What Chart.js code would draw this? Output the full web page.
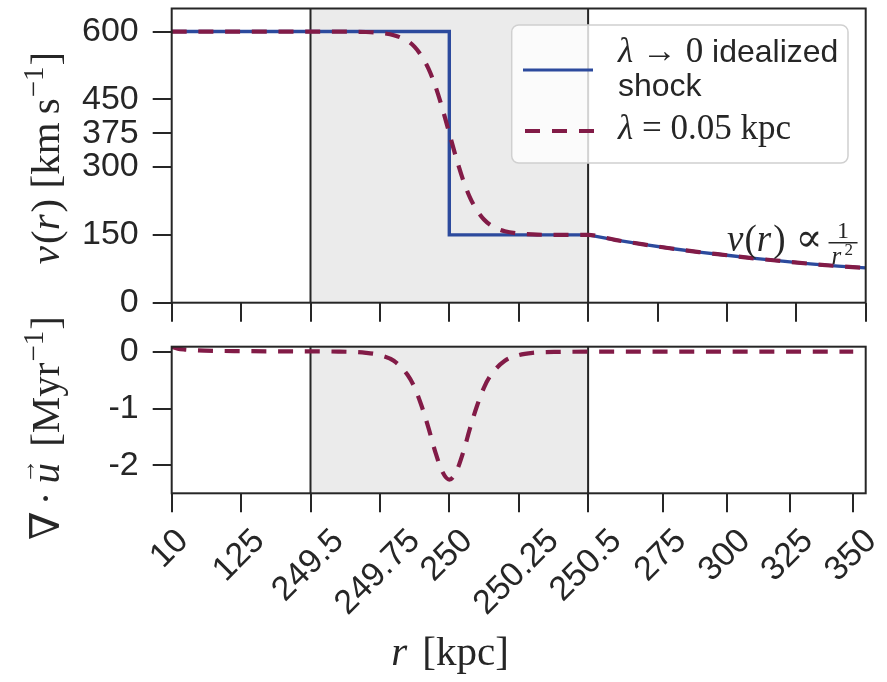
<!DOCTYPE html>
<html><head><meta charset="utf-8">
<script src="https://cdn.jsdelivr.net/npm/chart.js@4.4.1/dist/chart.umd.min.js"></script>
<style>
html,body{margin:0;padding:0;background:#fff;}
#wrap{position:relative;width:887px;height:682px;overflow:hidden;background:#fff;}
#wrap canvas{position:absolute;left:0;top:0;}
</style></head><body>
<div id="wrap">
<canvas id="cBot" width="887" height="682" style="width:887px;height:682px"></canvas>
<canvas id="cTop" width="887" height="682" style="width:887px;height:682px"></canvas>
</div>
<script>
// ---------------- data ----------------
const rTicks = [10, 125, 249.5, 249.75, 250, 250.25, 250.5, 275, 300, 325, 350];
const rTickLabels = ['10', '125', '249.5', '249.75', '250', '250.25', '250.5', '275', '300', '325', '350'];
const vTicks = [0, 150, 300, 375, 450, 600];
const vTickLabels = ['0', '150', '300', '375', '450', '600'];
const divTicks = [0, -1, -2];
const divTickLabels = ['0', '-1', '-2'];

// idealized shock (lambda -> 0)
const rIdeal = [10, 125, 249.5, 250, 250, 250.5, 260, 270, 280, 290, 300, 310, 320, 330, 340, 350];
const vIdeal = [600, 600, 600, 600, 150, 150, 139, 129, 120, 112, 105, 98, 92, 86, 81, 77];

// smoothed shock (lambda = 0.05 kpc)
const rSmooth = [10, 125, 249.5, 249.6, 249.7, 249.75, 249.8, 249.85, 249.875, 249.9, 249.925, 249.95, 249.975, 250,
  250.025, 250.05, 250.075, 250.1, 250.125, 250.15, 250.175, 250.2, 250.25, 250.3, 250.4, 250.5,
  260, 270, 280, 290, 300, 310, 320, 330, 340, 350];
const vSmooth = [600, 600, 600, 599.8, 599, 597, 592, 579, 566, 546, 518, 479, 430, 375,
  320, 271, 232, 204, 184, 171, 163, 158, 153, 151, 150, 150,
  139, 129, 120, 112, 105, 98, 92, 86, 81, 77];

// divergence of the smoothed flow
const rDiv = [10, 15, 20, 30, 50, 80, 125, 200, 249.5, 249.6, 249.7, 249.75, 249.8, 249.85, 249.875, 249.9, 249.925,
  249.95, 249.975, 250, 250.025, 250.05, 250.075, 250.1, 250.125, 250.15, 250.2, 250.25, 250.3, 250.4, 250.5,
  275, 300, 325, 350];
const divSmooth = [0.09, 0.07, 0.055, 0.04, 0.025, 0.015, 0.01, 0.006, 0.005, 0.002, -0.02, -0.06, -0.16, -0.41, -0.63,
  -0.95, -1.34, -1.77, -2.11, -2.25, -2.11, -1.77, -1.34, -0.95, -0.63, -0.41, -0.16, -0.06, -0.02, -0.003, 0,
  0, 0, 0, 0];

const shockRegion = [249.5, 250.5];

// ---------------- axis warping (broken r axis) ----------------
const topAxisUnits = [0, 1, 2, 3, 4, 5, 6, 7, 8, 9, 10];
const botAxisUnits = [0, 1, 2, 3, 4, 5, 6, 7.08, 8.0, 8.906, 9.82];
function warp(r, units) {
  for (let i = 0; i < rTicks.length - 1; i++) {
    if (r <= rTicks[i + 1] || i === rTicks.length - 2) {
      const t = (r - rTicks[i]) / (rTicks[i + 1] - rTicks[i]);
      return units[i] + t * (units[i + 1] - units[i]);
    }
  }
}
const pts = (rs, ys, units) => rs.map((r, i) => ({x: warp(r, units), y: ys[i]}));

// ---------------- styles ----------------
const BLUE = '#2c4a9d';
const MAROON = '#821b47';
const INK = '#262626';
const SANS = '"Liberation Sans", Arial, Helvetica, sans-serif';
const SERIF = '"Liberation Serif", "DejaVu Serif", "Times New Roman", serif';
const TICKFONT = {family: SANS, size: 34};

function drawRuns(ctx, runs, cx, cy, rot, baseOff) {
  ctx.save();
  ctx.translate(cx, cy);
  ctx.rotate(rot);
  ctx.textBaseline = 'alphabetic';
  ctx.textAlign = 'left';
  let total = 0;
  runs.forEach(r => { ctx.font = r.font; r.w = ctx.measureText(r.t).width; total += r.w + (r.gap || 0); });
  let x = -total / 2;
  runs.forEach(r => {
    ctx.font = r.font;
    ctx.fillText(r.t, x, baseOff + (r.dy || 0));
    if (r.over) {
      ctx.font = r.overFont;
      const ow = ctx.measureText(r.over).width;
      ctx.fillText(r.over, x + (r.w - ow) / 2 + (r.overDx || 0), baseOff + r.overDy);
    }
    x += r.w + (r.gap || 0);
  });
  ctx.restore();
}

function framePlugin(units) {
  return {
    id: 'frame',
    beforeDatasetsDraw(chart) {
      const {ctx, chartArea: ca, scales: {x}} = chart;
      const x0 = x.getPixelForValue(warp(shockRegion[0], units));
      const x1 = x.getPixelForValue(warp(shockRegion[1], units));
      ctx.save();
      ctx.fillStyle = '#ebebeb';
      ctx.fillRect(x0, ca.top, x1 - x0, ca.bottom - ca.top);
      ctx.strokeStyle = INK;
      ctx.lineWidth = 2;
      ctx.beginPath();
      ctx.moveTo(x0, ca.top); ctx.lineTo(x0, ca.bottom);
      ctx.moveTo(x1, ca.top); ctx.lineTo(x1, ca.bottom);
      ctx.stroke();
      ctx.restore();
    },
    afterDatasetsDraw(chart) {
      const {ctx, chartArea: ca} = chart;
      ctx.save();
      ctx.strokeStyle = INK;
      ctx.lineWidth = 2;
      ctx.strokeRect(ca.left, ca.top, ca.right - ca.left, ca.bottom - ca.top);
      ctx.restore();
    }
  };
}

// centre rotated tick labels on their ticks (matplotlib style)
const centerRotLabels = {
  id: 'centerRotLabels',
  beforeDraw(chart) {
    const s = chart.scales.x;
    if (!s || !s.getLabelItems) return;
    const items = s.getLabelItems();
    const ctx = chart.ctx;
    items.forEach(it => {
      if (it._centered || !it.options || !it.options.translation) return;
      ctx.save();
      ctx.font = it.font.string;
      const w = ctx.measureText(String(it.label)).width;
      ctx.restore();
      it.options.translation[0] += w * Math.SQRT1_2 / 2 - 2;
      it._centered = true;
    });
  }
};

const tickGrid = {drawOnChartArea: false, drawTicks: true, tickLength: 19, tickWidth: 2, tickColor: INK, lineWidth: 0};

function yAxis(min, max, ticks, labels, width) {
  return {
    type: 'linear', min, max,
    border: {display: false},
    grid: tickGrid,
    afterBuildTicks: s => { s.ticks = ticks.map(v => ({value: v})); },
    ticks: {
      font: TICKFONT, color: INK, padding: 14,
      callback: v => labels[ticks.indexOf(v)]
    },
    afterFit: s => { s.width = width; s.paddingTop = 0; s.paddingBottom = 0; }
  };
}

// ---------------- top panel ----------------
const F = 41;
const topTexts = {
  id: 'topTexts',
  afterDraw(chart) {
    const ctx = chart.ctx;
    ctx.save();
    ctx.fillStyle = INK;
    // y title
    drawRuns(ctx, [
      {t: 'v', font: `italic ${F}px ${SERIF}`, gap: 2},
      {t: '(', font: `${F}px ${SERIF}`},
      {t: 'r', font: `italic ${F}px ${SERIF}`, gap: 2},
      {t: ') [km\u2009s', font: `${F}px ${SERIF}`, gap: 1},
      {t: '\u22121', font: `${Math.round(F * 0.7)}px ${SERIF}`, dy: -16, gap: 1},
      {t: ']', font: `${F}px ${SERIF}`}
    ], 46, 158, -Math.PI / 2, 13);

    // annotation v(r) ∝ 1/r^2
    ctx.textBaseline = 'alphabetic';
    ctx.textAlign = 'left';
    let x = 727;
    const b = 251;
    const parts = [
      {t: 'v', f: `italic 37px ${SERIF}`, g: 1},
      {t: '(', f: `37px ${SERIF}`, g: 0},
      {t: 'r', f: `italic 37px ${SERIF}`, g: 2},
      {t: ')', f: `37px ${SERIF}`, g: 0},
      {t: ' \u221D', f: `40px ${SERIF}`, g: 6}
    ];
    parts.forEach(p => { ctx.font = p.f; ctx.fillText(p.t, x, b); x += ctx.measureText(p.t).width + p.g; });
    ctx.font = `24px ${SERIF}`;
    const fx = Math.max(x, 824), fw = 29;
    ctx.textAlign = 'center';
    ctx.fillText('1', fx + fw / 2, 238);
    ctx.fillRect(fx, 242, fw, 1.5);
    ctx.font = `italic 25px ${SERIF}`;
    ctx.textAlign = 'left';
    ctx.fillText('r', fx + 3, 264);
    ctx.font = `17px ${SERIF}`;
    ctx.fillText('2', fx + 16, 255);

    // legend
    const lx = 511.7, ly = 25, lw = 336.3, lh = 138, rad = 7;
    ctx.beginPath();
    ctx.moveTo(lx + rad, ly);
    ctx.arcTo(lx + lw, ly, lx + lw, ly + lh, rad);
    ctx.arcTo(lx + lw, ly + lh, lx, ly + lh, rad);
    ctx.arcTo(lx, ly + lh, lx, ly, rad);
    ctx.arcTo(lx, ly, lx + lw, ly, rad);
    ctx.closePath();
    ctx.fillStyle = 'rgba(255,255,255,0.8)';
    ctx.fill();
    ctx.strokeStyle = '#d0d0d0';
    ctx.lineWidth = 1.5;
    ctx.stroke();

    ctx.lineWidth = 3.2;
    ctx.strokeStyle = BLUE;
    ctx.beginPath(); ctx.moveTo(523, 70); ctx.lineTo(593, 70); ctx.stroke();
    ctx.lineWidth = 4.2;
    ctx.strokeStyle = MAROON;
    ctx.setLineDash([15, 12]);
    ctx.beginPath(); ctx.moveTo(525, 131); ctx.lineTo(595, 131); ctx.stroke();
    ctx.setLineDash([]);

    ctx.fillStyle = INK;
    let tx = 618;
    const seg1 = [
      {t: '\u03BB', f: `italic 35px ${SERIF}`},
      {t: ' \u2192 0', f: `35px ${SERIF}`},
      {t: ' idealized', f: `32px ${SANS}`}
    ];
    seg1.forEach(p => { ctx.font = p.f; ctx.fillText(p.t, tx, 62); tx += ctx.measureText(p.t).width; });
    ctx.font = `32px ${SANS}`;
    ctx.fillText('shock', 618, 96);
    tx = 618;
    const seg2 = [
      {t: '\u03BB', f: `italic 35px ${SERIF}`},
      {t: ' = 0.05 kpc', f: `35px ${SERIF}`}
    ];
    seg2.forEach(p => { ctx.font = p.f; ctx.fillText(p.t, tx, 139); tx += ctx.measureText(p.t).width; });
    ctx.restore();
  }
};

new Chart(document.getElementById('cTop'), {
  type: 'line',
  data: {
    datasets: [
      {label: '\u03BB = 0.05 kpc', data: pts(rSmooth, vSmooth, topAxisUnits), borderColor: MAROON, borderWidth: 4.2,
        borderDash: [15, 11.7], pointRadius: 0, cubicInterpolationMode: 'monotone', order: 0, fill: false},
      {label: '\u03BB \u2192 0 idealized shock', data: pts(rIdeal, vIdeal, topAxisUnits), borderColor: BLUE, borderWidth: 3.4,
        pointRadius: 0, tension: 0, order: 1, fill: false}
    ]
  },
  options: {
    responsive: false, animation: false, devicePixelRatio: 1,
    layout: {padding: {left: 0, top: 8.5, right: 21.3, bottom: 0}},
    plugins: {legend: {display: false}, tooltip: {enabled: false}},
    scales: {
      x: {
        type: 'linear', min: 0, max: 10,
        border: {display: false},
        grid: tickGrid,
        afterBuildTicks: s => { s.ticks = topAxisUnits.map(v => ({value: v})); },
        ticks: {display: false},
        afterFit: s => { s.height = 682 - 302.7; s.paddingLeft = 0; s.paddingRight = 0; }
      },
      y: yAxis(0, 651, vTicks, vTickLabels, 171.7)
    }
  },
  plugins: [framePlugin(topAxisUnits), topTexts]
});

// ---------------- bottom panel ----------------
const botTexts = {
  id: 'botTexts',
  afterDraw(chart) {
    const ctx = chart.ctx;
    ctx.save();
    ctx.fillStyle = INK;
    drawRuns(ctx, [
      {t: '\u2207', font: `${F}px ${SERIF}`, gap: 6},
      {t: '\u00B7', font: `${F}px ${SERIF}`, gap: 8},
      {t: 'u', font: `italic ${F}px ${SERIF}`, over: '\u2192', overFont: `${Math.round(F * 0.62)}px ${SERIF}`, overDy: -24, overDx: 2, gap: 6},
      {t: ' [Myr', font: `${F}px ${SERIF}`, gap: 1},
      {t: '\u22121', font: `${Math.round(F * 0.7)}px ${SERIF}`, dy: -16, gap: 1},
      {t: ']', font: `${F}px ${SERIF}`}
    ], 46, 428, -Math.PI / 2, 13);

    // x title
    drawRuns(ctx, [
      {t: 'r', font: `italic ${F}px ${SERIF}`, gap: 5},
      {t: ' [kpc]', font: `${F}px ${SERIF}`}
    ], 450, 665, 0, 0);
    ctx.restore();
  }
};

new Chart(document.getElementById('cBot'), {
  type: 'line',
  data: {
    datasets: [
      {label: '\u03BB = 0.05 kpc', data: pts(rDiv, divSmooth, botAxisUnits), borderColor: MAROON, borderWidth: 4.2,
        borderDash: [15, 11.7], pointRadius: 0, cubicInterpolationMode: 'monotone', fill: false}
    ]
  },
  options: {
    responsive: false, animation: false, devicePixelRatio: 1,
    layout: {padding: {left: 0, top: 346.7, right: 21.3, bottom: 0}},
    plugins: {legend: {display: false}, tooltip: {enabled: false}},
    scales: {
      x: {
        type: 'linear', min: 0, max: 10,
        border: {display: false},
        grid: tickGrid,
        afterBuildTicks: s => { s.ticks = botAxisUnits.map(v => ({value: v})); },
        ticks: {
          font: TICKFONT, color: INK, padding: 9, minRotation: 45, maxRotation: 45, autoSkip: false,
          callback: v => rTickLabels[botAxisUnits.indexOf(v)]
        },
        afterFit: s => { s.height = 682 - 493.3; s.paddingLeft = 0; s.paddingRight = 0; }
      },
      y: yAxis(-2.49, 0.088, divTicks, divTickLabels, 171.7)
    }
  },
  plugins: [framePlugin(botAxisUnits), centerRotLabels, botTexts]
});
</script>
</body></html>
